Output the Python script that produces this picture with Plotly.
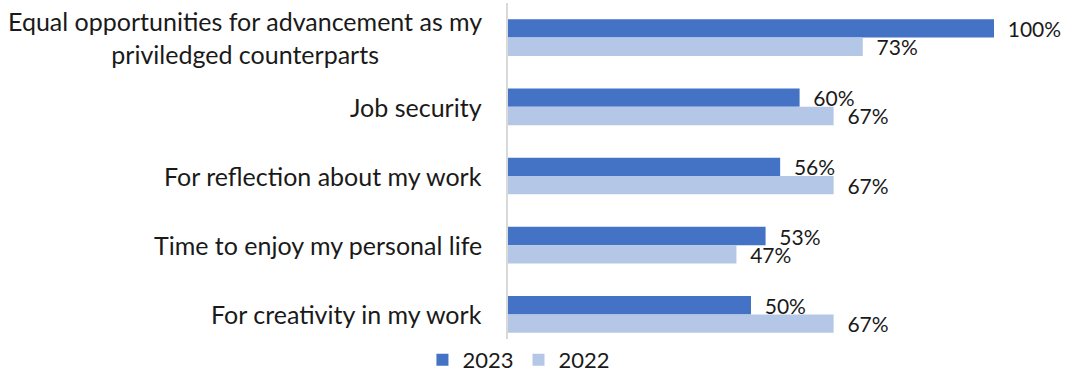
import plotly.graph_objects as go

categories = [
    "Equal opportunities for advancement as my<br>priviledged counterparts",
    "Job security",
    "For reflection about my work",
    "Time to enjoy my personal life",
    "For creativity in my work",
]
values_2023 = [100, 60, 56, 53, 50]
values_2022 = [73, 67, 67, 47, 67]

FONT = "Lato"
TEXT_COLOR = "#1a1a1a"
PAD = "\u00a0\u00a0"  # breathing room between bar end and its label

fig = go.Figure()
for name, vals, color in [("2023", values_2023, "#4472C4"),
                          ("2022", values_2022, "#B4C7E7")]:
    fig.add_trace(go.Bar(
        name=name, y=categories, x=vals, orientation="h",
        marker=dict(color=color, line=dict(width=0)),
        text=[f"{PAD}{v}%" for v in vals], textposition="outside",
        constraintext="none",
        textfont=dict(family=FONT, size=21, color=TEXT_COLOR), cliponaxis=False,
    ))

# Category labels, centred per line and right-aligned against the axis
for cat in categories:
    fig.add_annotation(
        x=0, xref="paper", y=cat, yref="y", xanchor="right", yanchor="middle",
        xshift=-24, text=cat, showarrow=False, align="center",
        font=dict(family=FONT, size=25, color=TEXT_COLOR),
    )

fig.update_layout(
    width=1070, height=377,
    margin=dict(l=508, r=76, t=3, b=28, autoexpand=False),
    paper_bgcolor="white", plot_bgcolor="white",
    barmode="group", bargap=0.47, bargroupgap=0,
    showlegend=True,
    legend=dict(
        orientation="h", xref="container", yref="container",
        x=0.485, xanchor="center", y=0.045, yanchor="middle",
        font=dict(family=FONT, size=22, color=TEXT_COLOR),
        itemwidth=30, traceorder="normal",
    ),
    xaxis=dict(range=[0, 100], showgrid=False, zeroline=False,
               showticklabels=False, showline=False),
    yaxis=dict(autorange="reversed", showgrid=False, zeroline=False,
               showticklabels=False, showline=True, linecolor="#D9D9D9",
               linewidth=2),
)

fig.write_html("out.html")
